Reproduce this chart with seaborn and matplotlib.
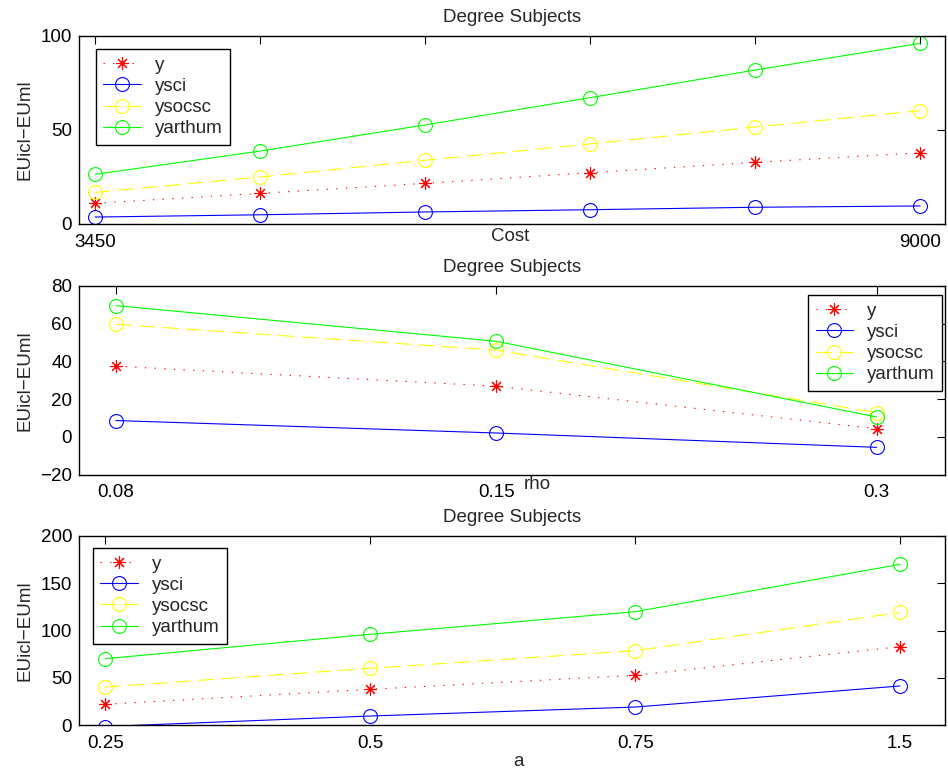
import numpy as np
import pandas as pd
import matplotlib
matplotlib.use("Agg")
import matplotlib.pyplot as plt
import seaborn as sns

sns.set_style("white")
plt.rcParams['font.family'] = ['Liberation Sans', 'DejaVu Sans']
plt.rcParams['axes.unicode_minus'] = True

series_names = ["y", "ysci", "ysocsc", "yarthum"]
series_colors = ["#ff0000", "#0000ff", "#ffff00", "#00ff00"]
series_styles = [(0, (1.2, 7.5)), "-", (0, (14, 7)), "-"]
series_markers = [(8, 2, 0), "o", "o", "o"]

# Panel 1: Cost
cost_labels = ["3450", "", "", "", "", "9000"]
cost_y = [11.0, 16.3, 21.6, 27.3, 32.8, 37.9]
cost_ysci = [3.7, 4.9, 6.4, 7.6, 8.9, 9.6]
cost_ysocsc = [16.8, 25.0, 33.9, 42.6, 51.6, 60.3]
cost_yarthum = [26.4, 38.8, 52.7, 67.2, 81.9, 96.1]

# Panel 2: rho
rho_labels = ["0.08", "0.15", "0.3"]
rho_y = [37.5, 26.9, 4.4]
rho_ysci = [8.7, 2.1, -5.5]
rho_ysocsc = [59.7, 46.0, 12.9]
rho_yarthum = [69.6, 50.7, 10.6]

# Panel 3: a
a_labels = ["0.25", "0.5", "0.75", "1.5"]
a_y = [21.9, 37.8, 52.6, 82.9]
a_ysci = [-1.6, 9.5, 19.0, 41.3]
a_ysocsc = [40.2, 60.0, 78.6, 119.2]
a_yarthum = [70.2, 96.0, 119.9, 170.0]

W, H = 948, 780
fig = plt.figure(figsize=(W / 100, H / 100), dpi=100)

def px_axes(left, top, right, bottom):
    return fig.add_axes([left / W, 1 - bottom / H, (right - left) / W, (bottom - top) / H])

FS = 13.5

panels = [
    dict(ax=px_axes(79, 36, 945, 224), labels=cost_labels,
         data=[cost_y, cost_ysci, cost_ysocsc, cost_yarthum],
         xlim=(0.903, 6.15), ylim=(0, 100), yticks=[0, 50, 100],
         xlabel="Cost", xlab_pos=(0.498, -0.02),
         leg_loc="upper left", leg_anchor=(0.0193, 0.931)),
    dict(ax=px_axes(79, 286, 945, 474.7), labels=rho_labels,
         data=[rho_y, rho_ysci, rho_ysocsc, rho_yarthum],
         xlim=(0.903, 3.18), ylim=(-20, 80), yticks=[-20, 0, 20, 40, 60, 80],
         xlabel="rho", xlab_pos=(0.529, -0.005),
         leg_loc="upper right", leg_anchor=(0.997, 0.952)),
    dict(ax=px_axes(79, 536, 945, 725), labels=a_labels,
         data=[a_y, a_ysci, a_ysocsc, a_yarthum],
         xlim=(0.90, 4.17), ylim=(0, 200), yticks=[0, 50, 100, 150, 200],
         xlabel="a", xlab_pos=(0.508, -0.15),
         leg_loc="upper left", leg_anchor=(0.0158, 0.937)),
]

for p in panels:
    ax = p["ax"]
    xs = np.arange(1, len(p["labels"]) + 1)
    for name, vals, col, ls, mk in zip(series_names, p["data"], series_colors,
                                       series_styles, series_markers):
        df = pd.DataFrame({"x": xs, "v": vals})
        sns.lineplot(data=df, x="x", y="v", ax=ax, color=col, linestyle=ls,
                     linewidth=0.8, marker=mk, markersize=10 if mk == "o" else 9,
                     markerfacecolor="none", markeredgecolor=col,
                     markeredgewidth=0.8, label=name)
    ax.set_xlim(*p["xlim"])
    ax.set_ylim(*p["ylim"])
    ax.set_xticks(xs)
    ax.set_xticklabels(p["labels"])
    ax.set_yticks(p["yticks"])
    ax.tick_params(direction="in", top=True, right=True, length=6, width=0.8,
                   labelsize=FS, pad=5, colors="black")
    ax.tick_params(axis="x", pad=7)
    for s in ax.spines.values():
        s.set_visible(True)
        s.set_color("black")
        s.set_linewidth(1.0)
    ax.set_title("Degree Subjects", fontsize=FS, pad=10)
    ax.set_ylabel("EUicl\u2212EUml", fontsize=FS)
    ax.yaxis.set_label_coords(-0.053, 0.5)
    ax.set_xlabel(p["xlabel"], fontsize=FS)
    ax.xaxis.set_label_coords(*p["xlab_pos"])
    leg = ax.legend(loc=p["leg_loc"], bbox_to_anchor=p["leg_anchor"],
                    borderaxespad=0, fontsize=FS, frameon=True, fancybox=False,
                    framealpha=1, edgecolor="black", handlelength=2.0,
                    labelspacing=0.22, borderpad=0.4, handletextpad=0.75)
    leg.get_frame().set_linewidth(1.0)

fig.savefig("out.png", dpi=100)
